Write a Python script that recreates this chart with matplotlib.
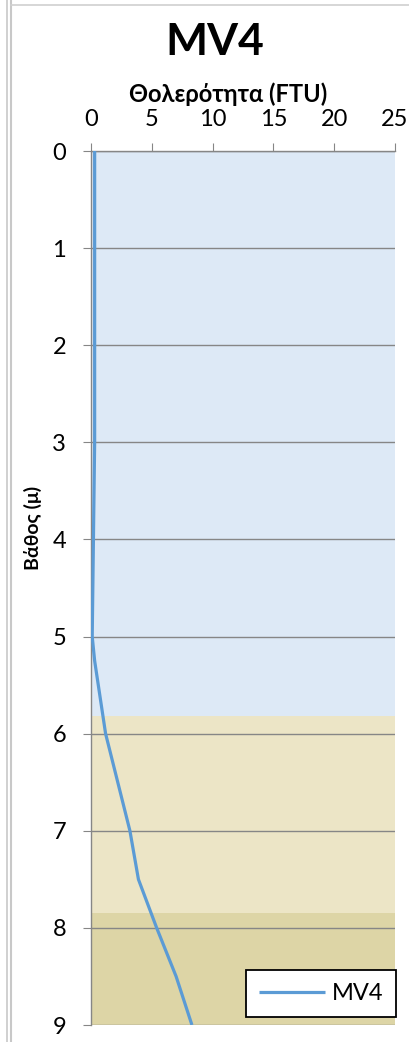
import matplotlib
matplotlib.use("Agg")
import matplotlib.pyplot as plt
from matplotlib.lines import Line2D

plt.rcParams['font.family'] = ['Lato', 'Open Sans', 'DejaVu Sans']

# Data
depth = [0, 0.5, 1, 1.5, 2, 2.5, 3, 3.5, 4, 4.5, 5, 5.25, 5.5, 6, 6.5, 7, 7.5, 8, 8.5, 9]
turbidity = [0.3, 0.3, 0.3, 0.3, 0.3, 0.3, 0.3, 0.25, 0.2, 0.15, 0.1, 0.3, 0.6, 1.2, 2.2, 3.2, 3.9, 5.4, 7.0, 8.3]
series_name = "MV4"
title = "MV4"
xlabel = "Θολερότητα (FTU)"
ylabel = "Βάθος (μ)"
xticks = [0, 5, 10, 15, 20, 25]
yticks = [0, 1, 2, 3, 4, 5, 6, 7, 8, 9]
bands = [(0, 5.82, '#dde9f6'), (5.82, 7.85, '#ece5c6'), (7.85, 9, '#ddd5a6')]

W, H = 409, 1042
fig = plt.figure(figsize=(W/100, H/100), dpi=100)
fig.patch.set_facecolor('white')

# sheet borders
fig.add_artist(Line2D([7/W, 7/W], [0, 1], color='#c8c8c8', lw=1.2))
fig.add_artist(Line2D([10.5/W, 10.5/W], [0, 1], color='#c8c8c8', lw=1.5))
fig.add_artist(Line2D([11/W, 1], [1-5/H, 1-5/H], color='#d0d0d0', lw=1.2))

left, right, top, bottom = 91, 395, 151, 1025
ax = fig.add_axes([left/W, 1-bottom/H, (right-left)/W, (bottom-top)/H])
ax.set_facecolor('white')

for y0, y1, c in bands:
    ax.axhspan(y0, y1, color=c, zorder=0, lw=0)

ax.plot(turbidity, depth, color='#5b9bd5', lw=2.3, label=series_name, zorder=3,
        solid_capstyle='butt')

ax.set_xlim(0, 25)
ax.set_ylim(9, 0)
ax.xaxis.tick_top()
ax.xaxis.set_label_position('top')
ax.set_xticks(xticks)
ax.set_yticks(yticks)
ax.tick_params(axis='x', direction='out', length=6, color='#868686', labelsize=17, pad=9)
ax.tick_params(axis='y', direction='out', length=6, color='#868686', labelsize=17, pad=12)
ax.grid(axis='y', color='#868686', lw=1.0, zorder=1)
for s in ['right', 'bottom']:
    ax.spines[s].set_visible(False)
for s in ['top', 'left']:
    ax.spines[s].set_color('#868686')
    ax.spines[s].set_linewidth(1.0)

ax.set_xlabel(xlabel, fontsize=17, fontweight='bold')
ax.xaxis.set_label_coords((228 - left) / (right - left), 1 + (top - 102) / (bottom - top))
ax.set_ylabel(ylabel, fontsize=14, fontweight='bold')
ax.yaxis.set_label_coords((42 - left) / (right - left), 1 - (528 - top) / (bottom - top))

fig.text(215/W, 1-42/H, title, fontsize=32, fontweight='bold', ha='center', va='center')

leg = ax.legend(loc='lower right', bbox_to_anchor=(1.004, 0.009), fontsize=17,
                frameon=True, fancybox=False, edgecolor='black', framealpha=1,
                borderaxespad=0.0, handlelength=2.8, borderpad=0.55,
                handletextpad=0.3)
leg.get_frame().set_linewidth(1.3)

fig.savefig('out.png', dpi=100)
